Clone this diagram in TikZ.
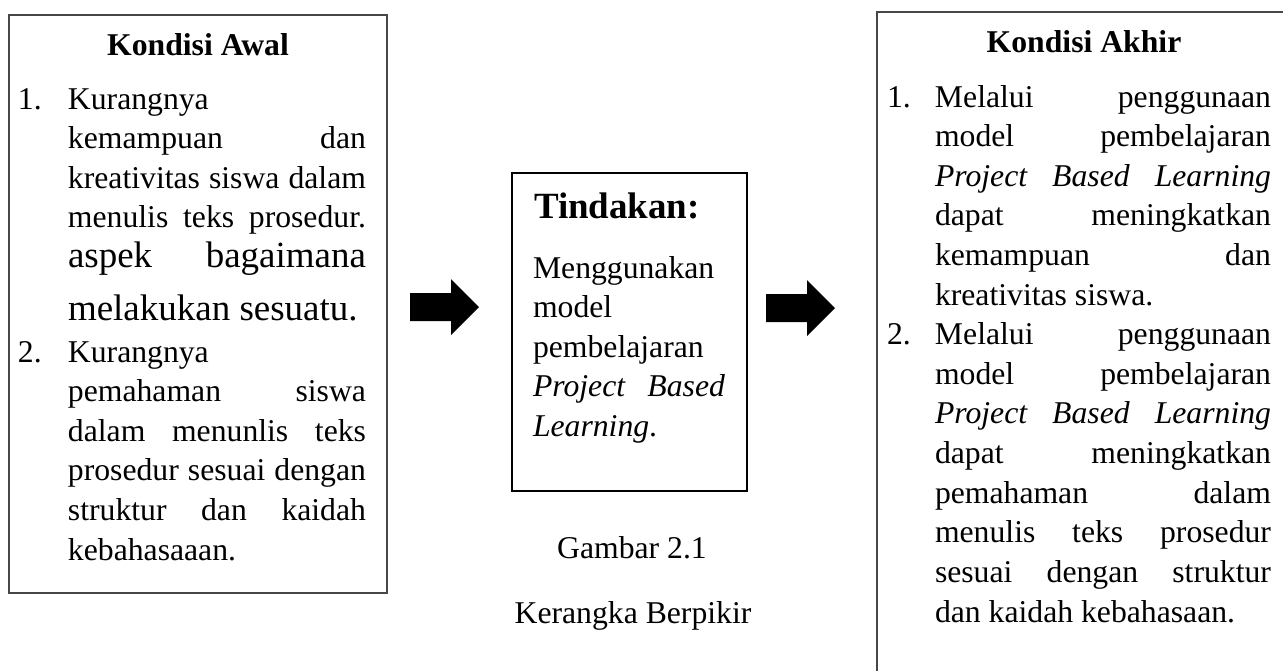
\documentclass[tikz,border=0pt]{standalone}
\usepackage{fontspec}
\setmainfont{Liberation Serif}
\newlength\pxu
\setlength\pxu{0.3786pt}
\hbadness=10000
\begin{document}
\begin{tikzpicture}[x=0.3786pt, y=-0.3786pt,
  box/.style={draw=black!72, line width=0.75pt, inner sep=0pt, outer sep=0pt},
  midbox/.style={draw=black, line width=0.6pt, inner sep=0pt, outer sep=0pt},
  txt/.style={inner sep=0pt, outer sep=0pt, anchor=base west, align=justify, font=\fontsize{12}{15}\selectfont},
  ttl/.style={inner sep=0pt, outer sep=0pt, anchor=base, font=\bfseries\fontsize{12}{15}\selectfont},
  captxt/.style={inner sep=0pt, outer sep=0pt, anchor=base, font=\fontsize{12}{15}\selectfont},
  blockarrow/.style={fill=black}]
\useasboundingbox (0,0) rectangle (1283,670);
\clip (0,0) rectangle (1283,670);

% boxes
\node[box, minimum width=378\pxu, minimum height=578\pxu] (awal) at (198,304) {};
\node[midbox, minimum width=235\pxu, minimum height=318\pxu] (tindakan) at (629.5,332) {};
\node[box, minimum width=420\pxu, minimum height=680\pxu] (akhir) at (1087,352) {};

% left box
\node[ttl] (t1) at (198,55) {Kondisi Awal};
\node[txt, text width=348\pxu] (a1) at (18,109) {\parfillskip=0pt\hangindent=50\pxu\hangafter=1\noindent\makebox[50\pxu][l]{1.}Kurangnya\linebreak kemampuan dan\linebreak kreativitas siswa dalam\linebreak menulis teks prosedur.\par};
\node[txt, text width=298\pxu, font=\fontsize{14}{20.07}\selectfont] (a1b) at (68,267) {aspek bagaimana\linebreak melakukan sesuatu.\par};
\node[txt, text width=348\pxu] (a2) at (18,362) {\hangindent=50\pxu\hangafter=1\noindent\makebox[50\pxu][l]{2.}Kurangnya\linebreak pemahaman siswa\linebreak dalam menunlis teks\linebreak prosedur sesuai dengan\linebreak struktur dan kaidah\linebreak kebahasaaan.\par};

% middle box
\node[txt, font=\bfseries\fontsize{14}{16}\selectfont] (t2) at (534,218) {Tindakan:};
\node[txt, text width=192\pxu] (m1) at (533,278) {Menggunakan\linebreak model\linebreak pembelajaran\linebreak \textit{Project Based}\linebreak \textit{Learning}.\par};
\node[captxt] (cap1) at (632,558) {Gambar 2.1};
\node[captxt] (cap2) at (633,623) {Kerangka Berpikir};

% right box
\node[ttl] (t3) at (1084,52) {Kondisi Akhir};
\node[txt, text width=384\pxu] (r1) at (887,107) {\hangindent=48\pxu\hangafter=1\noindent\makebox[48\pxu][l]{1.}Melalui penggunaan\linebreak model pembelajaran\linebreak \textit{Project Based Learning}\linebreak dapat meningkatkan\linebreak kemampuan dan\linebreak kreativitas siswa.\par
\hangindent=48\pxu\hangafter=1\noindent\makebox[48\pxu][l]{2.}Melalui penggunaan\linebreak model pembelajaran\linebreak \textit{Project Based Learning}\linebreak dapat meningkatkan\linebreak pemahaman dalam\linebreak menulis teks prosedur\linebreak sesuai dengan struktur\linebreak dan kaidah kebahasaan.\par};

% block arrows
\coordinate (ar1) at (410,307);
\coordinate (ar2) at (766,308);
\fill[blockarrow] (ar1) ++(0,-14) -- ++(41,0) -- ++(0,-14) -- ++(28,28) -- ++(-28,28) -- ++(0,-14) -- ++(-41,0) -- cycle;
\fill[blockarrow] (ar2) ++(0,-14) -- ++(41,0) -- ++(0,-14) -- ++(28,28) -- ++(-28,28) -- ++(0,-14) -- ++(-41,0) -- cycle;
\end{tikzpicture}
\end{document}
